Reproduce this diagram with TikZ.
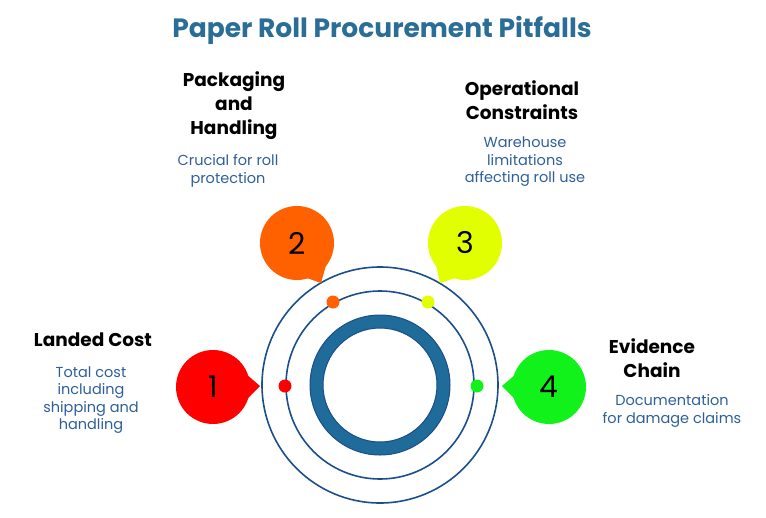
\documentclass[tikz,border=0pt]{standalone}
\usepackage{fontspec}
\setmainfont{Poppins}
\usetikzlibrary{calc}
\begin{document}
\begin{tikzpicture}[x=1pt,y=-1pt,
  ttl/.style={font=\fontsize{26.5}{30}\selectfont\bfseries,text=titleblue},
  head/.style={font=\fontsize{18.5}{24}\selectfont\bfseries,align=center},
  desc/.style={font=\fontsize{14.5}{17.5}\selectfont,text=descblue,align=center},
  num/.style={font=\fontsize{30}{32}\selectfont},
  ring/.style={draw=ringblue,line width=1.6pt},
  dot/.style={circle,inner sep=0pt,minimum size=13pt}]
\definecolor{titleblue}{HTML}{2A6E97}
\definecolor{descblue}{HTML}{2E5F9A}
\definecolor{ringblue}{HTML}{1A4F8C}
\definecolor{innerfill}{HTML}{1F6B99}
\definecolor{c1}{HTML}{FF0000}
\definecolor{c2}{HTML}{FF6000}
\definecolor{c3}{HTML}{E2FF00}
\definecolor{c4}{HTML}{11F21A}
\useasboundingbox (0,0) rectangle (766,517);
\coordinate (c) at (380,385);
\node[ttl] (title) at (382,30) {Paper Roll Procurement Pitfalls};
% rings
\draw[ring] (c) circle (118);
\draw[ring] (c) circle (94);
\fill[innerfill,even odd rule] (c) circle (70) (c) circle (57);
\draw[ringblue,line width=1pt] (c) circle (70) (c) circle (57);
% bubbles with tails
\newcommand{\mybubble}[6]{%
  \coordinate (#1c) at (#2);
  \coordinate (#1t) at (#4);
  \fill[#5] ($(#1c)+(#3-20:36)$) -- (#1t) -- ($(#1c)+(#3+20:36)$) -- cycle;
  \node[circle,fill=#5,minimum size=74pt,inner sep=0pt,num] (#1) at (#1c) {#6};
}
\mybubble{b1}{213,387}{0}{260,386}{c1}{1}
\mybubble{b2}{297,243}{55}{321,283}{c2}{2}
\mybubble{b3}{465,243}{125}{440,283}{c3}{3}
\mybubble{b4}{549,387}{180}{502,386}{c4}{4}
% dots
\node[dot,fill=c1] (d1) at (285,386) {};
\node[dot,fill=c2] (d2) at (333,302) {};
\node[dot,fill=c3] (d3) at (428,302) {};
\node[dot,fill=c4] (d4) at (477,386) {};
% texts
\node[head] (h2) at (234,106) {Packaging\\and\\Handling};
\node[desc] (t2) at (228,171) {Crucial for roll\\protection};
\node[head] (h3) at (522,100) {Operational\\Constraints};
\node[desc] (t3) at (525,162) {Warehouse\\limitations\\affecting roll use};
\node[head] (h1) at (93,340) {Landed Cost};
\node[desc] (t1) at (91,400) {Total cost\\including\\shipping and\\handling};
\node[head] (h4) at (652,358) {Evidence\\Chain};
\node[desc] (t4) at (672,411) {Documentation\\for damage claims};
\end{tikzpicture}
\end{document}
